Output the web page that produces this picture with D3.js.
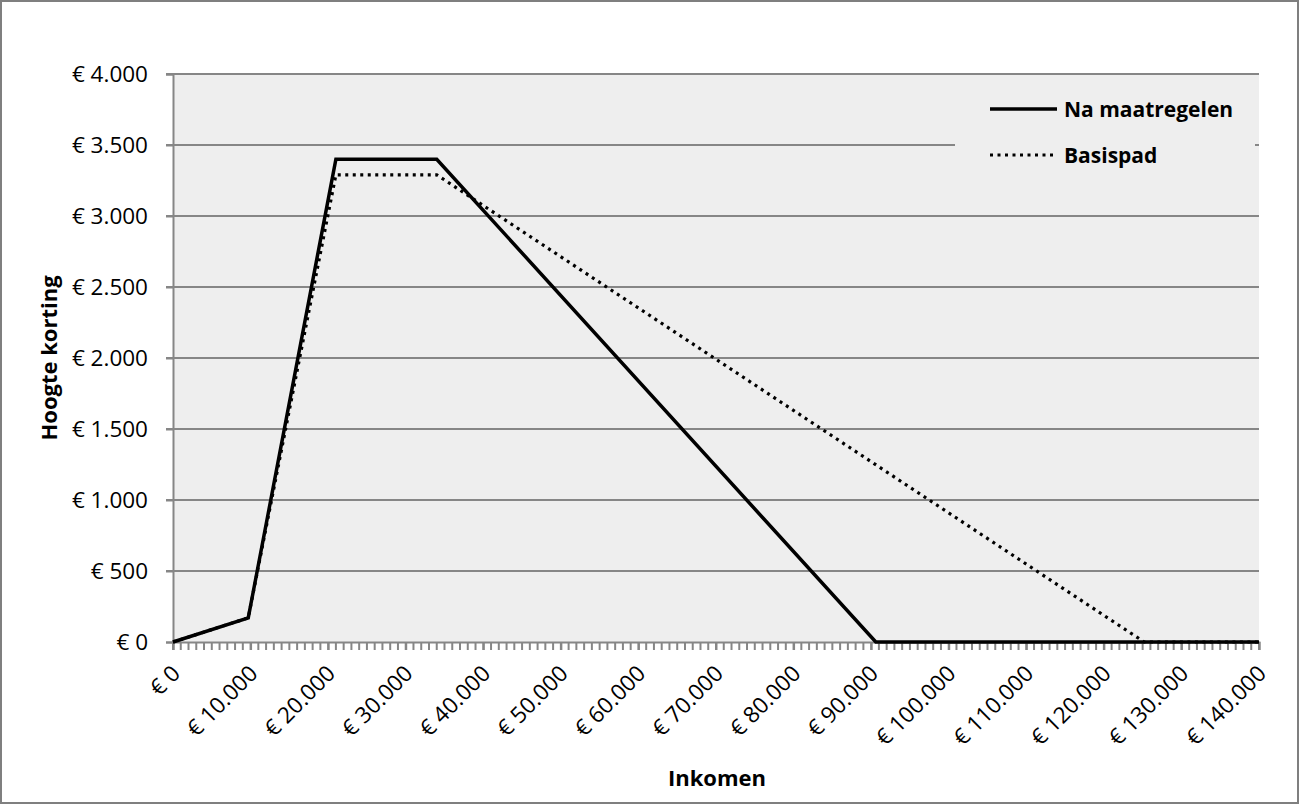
<!DOCTYPE html>
<html><head><meta charset="utf-8">
<script src="https://cdn.jsdelivr.net/npm/d3@7"></script>
<style>
html,body{margin:0;padding:0;background:#fff;}
svg{display:block;font-family:"Open Sans","Liberation Sans",sans-serif;}
</style></head>
<body>
<script>
const naIncome = [0, 9700, 21000, 34000, 90600, 140000];
const naValue = [0, 170, 3400, 3400, 0, 0];
const basisIncome = [0, 9700, 21000, 34000, 125200, 140000];
const basisValue = [0, 170, 3290, 3290, 0, 0];
const xTicks = [0,10000,20000,30000,40000,50000,60000,70000,80000,90000,100000,110000,120000,130000,140000];
const yTicks = [0,500,1000,1500,2000,2500,3000,3500,4000];
const seriesNames = ["Na maatregelen","Basispad"];

const W=1299,H=804;
const FONT='"Open Sans","Liberation Sans",sans-serif';
const m={left:173,right:1259,top:74,bottom:642};
const svg=d3.select("body").append("svg").attr("width",W).attr("height",H);
svg.append("rect").attr("x",1).attr("y",1).attr("width",W-2).attr("height",H-2)
  .attr("fill","#fff").attr("stroke","#7f7f7f").attr("stroke-width",2);

const x=d3.scaleLinear().domain([0,140000]).range([m.left,m.right]);
const y=d3.scaleLinear().domain([0,4000]).range([m.bottom,m.top]);
const fmt=v=>"€ "+d3.format(",")(v).replace(/,/g,".");

svg.append("rect").attr("x",m.left).attr("y",m.top).attr("width",m.right-m.left).attr("height",m.bottom-m.top).attr("fill","#eeeeee");

// gridlines
svg.append("g").selectAll("line").data(yTicks.filter(d=>d>0)).join("line")
  .attr("x1",m.left-7).attr("x2",m.right).attr("y1",d=>y(d)).attr("y2",d=>y(d))
  .attr("stroke","#868686").attr("stroke-width",2);

// y axis
const ya=svg.append("g").attr("transform",`translate(${m.left},0)`)
  .call(d3.axisLeft(y).tickValues(yTicks).tickFormat(fmt).tickSize(7).tickPadding(18));
ya.attr("font-family",FONT);
ya.select(".domain").attr("stroke","#868686").attr("stroke-width",2);
ya.selectAll(".tick line").attr("stroke","#868686").attr("stroke-width",2);
ya.selectAll("text").attr("font-size",22.5).attr("fill","#000");

// x minor ticks
const minor=d3.range(0,140001,1000);
svg.append("g").selectAll("line").data(minor).join("line")
  .attr("x1",d=>x(d)).attr("x2",d=>x(d)).attr("y1",m.bottom).attr("y2",m.bottom+8)
  .attr("stroke","#868686").attr("stroke-width",2);

const xa=svg.append("g").attr("transform",`translate(0,${m.bottom})`)
  .call(d3.axisBottom(x).tickValues(xTicks).tickFormat(fmt).tickSize(8).tickPadding(4));
xa.attr("font-family",FONT);
xa.select(".domain").attr("stroke","#868686").attr("stroke-width",2);
xa.selectAll(".tick line").attr("stroke","#868686").attr("stroke-width",2);
xa.selectAll("text").attr("font-size",22.5).attr("fill","#000")
  .attr("text-anchor","end").attr("x",0).attr("y",0).attr("dy",0)
  .attr("transform","translate(8,33) rotate(-45)");

// lines
const line=d3.line().x(d=>x(d[0])).y(d=>y(d[1]));
svg.append("path").datum(basisIncome.map((v,i)=>[v,basisValue[i]]))
  .attr("d",line).attr("fill","none").attr("stroke","#000").attr("stroke-width",3.2)
  .attr("stroke-dasharray","3 4.5");
svg.append("path").datum(naIncome.map((v,i)=>[v,naValue[i]]))
  .attr("d",line).attr("fill","none").attr("stroke","#000").attr("stroke-width",3.5)
  .attr("stroke-linejoin","miter");

// legend
const lg=svg.append("g");
lg.append("rect").attr("x",955).attr("y",86).attr("width",300).attr("height",92).attr("fill","#eeeeee");
seriesNames.forEach((n,i)=>{
  const yy=109+i*46;
  lg.append("line").attr("x1",990).attr("x2",1057).attr("y1",yy).attr("y2",yy)
    .attr("stroke","#000").attr("stroke-width",i===0?3.5:3.2)
    .attr("stroke-dasharray",i===0?null:"3 4.5");
  lg.append("text").attr("x",1064).attr("y",yy).attr("dy","0.36em")
    .attr("font-size",21).attr("font-weight","bold").text(n);
});

// axis titles
svg.append("text").attr("x",717).attr("y",786).attr("text-anchor","middle")
  .attr("font-size",22).attr("font-weight","bold").text("Inkomen");
svg.append("text").attr("transform","translate(57,358) rotate(-90)").attr("text-anchor","middle")
  .attr("font-size",22).attr("font-weight","bold").text("Hoogte korting");
</script>
</body></html>
